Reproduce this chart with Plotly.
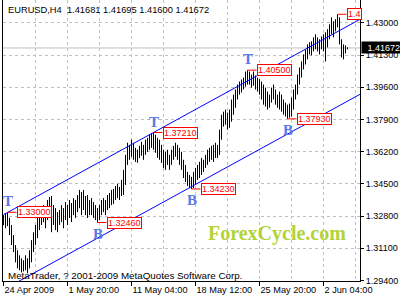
import plotly.graph_objects as go

# ---------------- data (EURUSD H4 bars) ----------------
opens = [
1.3270, 1.3250, 1.3280, 1.3240, 1.3190, 1.3140, 1.3100, 1.3050, 1.3020, 1.3040,
1.3000, 1.3030, 1.3010, 1.3050, 1.3090, 1.3140, 1.3180, 1.3220, 1.3270, 1.3300,
1.3250, 1.3300, 1.3270, 1.3350, 1.3300, 1.3240, 1.3300, 1.3220, 1.3280, 1.3300,
1.3260, 1.3310, 1.3330, 1.3280, 1.3340, 1.3290, 1.3360, 1.3310, 1.3380, 1.3400,
1.3320, 1.3330, 1.3300, 1.3350, 1.3300, 1.3330, 1.3290, 1.3320, 1.3260, 1.3330,
1.3350, 1.3310, 1.3350, 1.3380, 1.3390, 1.3410, 1.3380, 1.3420, 1.3390, 1.3420,
1.3460, 1.3510, 1.3590, 1.3600, 1.3650, 1.3610, 1.3590, 1.3630, 1.3600, 1.3640,
1.3610, 1.3640, 1.3680, 1.3630, 1.3700, 1.3650, 1.3700, 1.3620, 1.3670, 1.3590,
1.3620, 1.3540, 1.3610, 1.3560, 1.3590, 1.3640, 1.3620, 1.3650, 1.3600, 1.3580,
1.3530, 1.3490, 1.3500, 1.3450, 1.3480, 1.3440, 1.3500, 1.3490, 1.3540, 1.3520,
1.3570, 1.3550, 1.3590, 1.3620, 1.3580, 1.3640, 1.3590, 1.3650, 1.3620, 1.3720,
1.3800, 1.3770, 1.3800, 1.3750, 1.3830, 1.3880, 1.3900, 1.3930, 1.3950, 1.3980,
1.3980, 1.4000, 1.4030, 1.3990, 1.4010, 1.3970, 1.4010, 1.3960, 1.4000, 1.3930,
1.3910, 1.3880, 1.3920, 1.3860, 1.3910, 1.3940, 1.3910, 1.3880, 1.3910, 1.3850,
1.3870, 1.3830, 1.3860, 1.3810, 1.3860, 1.3890, 1.3940, 1.3960, 1.4010, 1.4050,
1.4090, 1.4120, 1.4150, 1.4170, 1.4190, 1.4170, 1.4210, 1.4170, 1.4200, 1.4180,
1.4220, 1.4160, 1.4240, 1.4250, 1.4280, 1.4250, 1.4300, 1.4290, 1.4320, 1.4200,
1.4130, 1.4170, 1.41681]

highs = [
1.3285, 1.3296, 1.3300, 1.3270, 1.3233, 1.3180, 1.3127, 1.3100, 1.3073, 1.3057,
1.3047, 1.3073, 1.3057, 1.3100, 1.3153, 1.3195, 1.3233, 1.3285, 1.3312, 1.3322,
1.3338, 1.3312, 1.3365, 1.3381, 1.3386, 1.3338, 1.3322, 1.3301, 1.3312, 1.3338,
1.3322, 1.3354, 1.3338, 1.3365, 1.3349, 1.3375, 1.3365, 1.3391, 1.3418, 1.3407,
1.3418, 1.3386, 1.3391, 1.3365, 1.3375, 1.3354, 1.3338, 1.3322, 1.3338, 1.3365,
1.3375, 1.3365, 1.3391, 1.3402, 1.3418, 1.3423, 1.3439, 1.3450, 1.3434, 1.3471,
1.3524, 1.3603, 1.3667, 1.3656, 1.3683, 1.3667, 1.3640, 1.3630, 1.3651, 1.3672,
1.3656, 1.3683, 1.3693, 1.3709, 1.3714, 1.3721, 1.3709, 1.3693, 1.3683, 1.3656,
1.3630, 1.3619, 1.3630, 1.3603, 1.3630, 1.3651, 1.3667, 1.3656, 1.3640, 1.3619,
1.3577, 1.3550, 1.3513, 1.3497, 1.3487, 1.3513, 1.3534, 1.3550, 1.3566, 1.3587,
1.3577, 1.3603, 1.3630, 1.3640, 1.3651, 1.3656, 1.3667, 1.3656, 1.3736, 1.3815,
1.3831, 1.3842, 1.3826, 1.3842, 1.3895, 1.3921, 1.3948, 1.3974, 1.3990, 1.4001,
1.4011, 1.4043, 1.4050, 1.4043, 1.4027, 1.4043, 1.4022, 1.4011, 1.4001, 1.3990,
1.3974, 1.3958, 1.3937, 1.3921, 1.3958, 1.3974, 1.3948, 1.3921, 1.3937, 1.3921,
1.3895, 1.3879, 1.3868, 1.3874, 1.3905, 1.3948, 1.3974, 1.4027, 1.4064, 1.4096,
1.4133, 1.4160, 1.4186, 1.4197, 1.4202, 1.4223, 1.4239, 1.4223, 1.4213, 1.4228,
1.4239, 1.4250, 1.4266, 1.4292, 1.4329, 1.4308, 1.4319, 1.4345, 1.4329, 1.4213,
1.4186, 1.4181, 1.41695]

lows = [
1.3232, 1.3216, 1.3227, 1.3180, 1.3127, 1.3090, 1.3036, 1.3004, 1.2994, 1.2983,
1.2988, 1.2994, 1.2978, 1.3004, 1.3036, 1.3090, 1.3127, 1.3164, 1.3206, 1.3233,
1.3248, 1.3216, 1.3259, 1.3285, 1.3195, 1.3233, 1.3206, 1.3195, 1.3233, 1.3248,
1.3216, 1.3259, 1.3233, 1.3270, 1.3248, 1.3285, 1.3270, 1.3301, 1.3322, 1.3285,
1.3312, 1.3285, 1.3270, 1.3285, 1.3285, 1.3270, 1.3259, 1.3246, 1.3259, 1.3285,
1.3301, 1.3285, 1.3312, 1.3322, 1.3338, 1.3344, 1.3365, 1.3375, 1.3365, 1.3386,
1.3391, 1.3444, 1.3550, 1.3577, 1.3593, 1.3577, 1.3566, 1.3561, 1.3587, 1.3598,
1.3577, 1.3603, 1.3619, 1.3630, 1.3640, 1.3630, 1.3614, 1.3587, 1.3577, 1.3561,
1.3534, 1.3524, 1.3550, 1.3524, 1.3550, 1.3577, 1.3593, 1.3577, 1.3550, 1.3524,
1.3481, 1.3460, 1.3439, 1.3428, 1.3423, 1.3428, 1.3450, 1.3471, 1.3481, 1.3497,
1.3513, 1.3534, 1.3550, 1.3566, 1.3577, 1.3566, 1.3587, 1.3587, 1.3603, 1.3683,
1.3752, 1.3762, 1.3736, 1.3746, 1.3778, 1.3815, 1.3852, 1.3895, 1.3921, 1.3932,
1.3948, 1.3963, 1.3974, 1.3974, 1.3958, 1.3969, 1.3948, 1.3937, 1.3921, 1.3895,
1.3868, 1.3858, 1.3842, 1.3852, 1.3879, 1.3895, 1.3868, 1.3852, 1.3842, 1.3831,
1.3815, 1.3805, 1.3793, 1.3799, 1.3805, 1.3842, 1.3895, 1.3921, 1.3974, 1.4011,
1.4054, 1.4080, 1.4107, 1.4133, 1.4128, 1.4149, 1.4160, 1.4149, 1.4133, 1.4160,
1.4149, 1.4096, 1.4170, 1.4213, 1.4239, 1.4223, 1.4255, 1.4276, 1.4186, 1.4117,
1.4107, 1.4138, 1.41600]

closes = [
1.3250, 1.3280, 1.3240, 1.3190, 1.3140, 1.3100, 1.3050, 1.3020, 1.3040, 1.3000,
1.3030, 1.3010, 1.3050, 1.3090, 1.3140, 1.3180, 1.3220, 1.3270, 1.3300, 1.3250,
1.3300, 1.3270, 1.3350, 1.3300, 1.3240, 1.3300, 1.3220, 1.3280, 1.3300, 1.3260,
1.3310, 1.3330, 1.3280, 1.3340, 1.3290, 1.3360, 1.3310, 1.3380, 1.3400, 1.3320,
1.3330, 1.3300, 1.3350, 1.3300, 1.3330, 1.3290, 1.3320, 1.3260, 1.3330, 1.3350,
1.3310, 1.3350, 1.3380, 1.3390, 1.3410, 1.3380, 1.3420, 1.3390, 1.3420, 1.3460,
1.3510, 1.3590, 1.3600, 1.3650, 1.3610, 1.3590, 1.3630, 1.3600, 1.3640, 1.3610,
1.3640, 1.3680, 1.3630, 1.3700, 1.3650, 1.3700, 1.3620, 1.3670, 1.3590, 1.3620,
1.3540, 1.3610, 1.3560, 1.3590, 1.3640, 1.3620, 1.3650, 1.3600, 1.3580, 1.3530,
1.3490, 1.3500, 1.3450, 1.3480, 1.3440, 1.3500, 1.3490, 1.3540, 1.3520, 1.3570,
1.3550, 1.3590, 1.3620, 1.3580, 1.3640, 1.3590, 1.3650, 1.3620, 1.3720, 1.3800,
1.3770, 1.3800, 1.3750, 1.3830, 1.3880, 1.3900, 1.3930, 1.3950, 1.3980, 1.3980,
1.4000, 1.4030, 1.3990, 1.4010, 1.3970, 1.4010, 1.3960, 1.4000, 1.3930, 1.3910,
1.3880, 1.3920, 1.3860, 1.3910, 1.3940, 1.3910, 1.3880, 1.3910, 1.3850, 1.3870,
1.3830, 1.3860, 1.3810, 1.3860, 1.3890, 1.3940, 1.3960, 1.4010, 1.4050, 1.4090,
1.4120, 1.4150, 1.4170, 1.4190, 1.4170, 1.4210, 1.4170, 1.4200, 1.4180, 1.4220,
1.4160, 1.4240, 1.4250, 1.4280, 1.4250, 1.4300, 1.4290, 1.4320, 1.4200, 1.4130,
1.4170, 1.41681, 1.41672]

bar_index = list(range(len(closes)))

# time axis labels (every 32 H4 bars)
time_tick_index = [0, 32, 64, 96, 128, 160]
time_tick_text = ["24 Apr 2009", "1 May 20:00", "11 May 04:00", "18 May 12:00", "25 May 20:00", "2 Jun 04:00"]

# price axis labels
price_ticks = [1.294, 1.311, 1.328, 1.345, 1.362, 1.379, 1.396, 1.413, 1.430]

# channel lines (bar index -> price)
channel_index = [0, 180]
channel_upper = [1.32873, 1.43285]
channel_lower = [1.28916, 1.39327]

# pivot price labels
pivot_index = [2, 47, 75, 94, 122, 142, 167]
pivot_price = [1.3300, 1.3246, 1.3721, 1.3423, 1.4050, 1.3793, 1.4345]
pivot_text = ["1.33000", "1.32460", "1.37210", "1.34230", "1.40500", "1.37930", "1.4"]
pivot_letter = ["T", "B", "T", "B", "T", "B", ""]

symbol_text = "EURUSD,H4  1.41681 1.41695 1.41600 1.41672"
last_price = 1.41672

# ---------------- figure ----------------
FONT = "Liberation Sans"
fig = go.Figure()

fig.add_trace(go.Ohlc(
    x=bar_index, open=opens, high=highs, low=lows, close=closes,
    increasing=dict(line=dict(color="black", width=1)),
    decreasing=dict(line=dict(color="black", width=1)),
    tickwidth=0.2, hoverinfo="skip", showlegend=False))

for ys in (channel_upper, channel_lower):
    fig.add_trace(go.Scatter(x=channel_index, y=ys, mode="lines",
                             line=dict(color="#0000ff", width=1),
                             hoverinfo="skip", showlegend=False))

shapes = [dict(type="line", xref="paper", x0=0, x1=1, yref="y",
               y0=last_price, y1=last_price, layer="between",
               line=dict(color="#c0c0c0", width=1))]
annotations = []
offset = 4.5
for i, p, t, letter in zip(pivot_index, pivot_price, pivot_text, pivot_letter):
    shapes.append(dict(type="line", xref="x", yref="y", x0=i, x1=i + offset,
                       y0=p, y1=p, line=dict(color="#ff0000", width=1)))
    annotations.append(dict(x=i + offset, y=p, xref="x", yref="y", text=t,
                            showarrow=False, xanchor="left", yanchor="middle",
                            font=dict(family=FONT, size=9, color="#ff0000"),
                            bgcolor="white", bordercolor="#ff0000",
                            borderwidth=1, borderpad=0))
    if letter:
        is_top = letter == "T"
        annotations.append(dict(x=i, y=p, xref="x", yref="y", text=letter,
                                showarrow=False, xanchor="center", yanchor="middle",
                                yshift=11 if is_top else -11,
                                font=dict(family="Liberation Serif", size=15,
                                          color="#5a78e6", weight="bold")))

annotations.append(dict(xref="paper", yref="paper", x=0, y=1, xshift=3, yshift=-10,
                        text=symbol_text, showarrow=False, xanchor="left",
                        yanchor="middle", font=dict(family=FONT, size=9.3, color="black")))
annotations.append(dict(xref="paper", yref="paper", x=0, y=0, xshift=3, yshift=6,
                        text="MetaTrader, ? 2001-2009 MetaQuotes Software Corp.",
                        showarrow=False, xanchor="left", yanchor="middle",
                        font=dict(family=FONT, size=9.8, color="black")))
annotations.append(dict(xref="paper", yref="paper", x=0.7675, y=0.1708,
                        text="ForexCycle.com", showarrow=False,
                        xanchor="center", yanchor="middle",
                        font=dict(family="Liberation Serif", size=20,
                                  color="#b2d235", weight="bold")))
annotations.append(dict(xref="paper", yref="y", x=1, y=last_price, xshift=1,
                        text=f"{last_price:.5f}", showarrow=False,
                        xanchor="left", yanchor="middle", width=38, height=11,
                        align="right", bgcolor="black", borderpad=0,
                        font=dict(family=FONT, size=9, color="white")))

fig.update_layout(
    width=400, height=300,
    margin=dict(l=3, r=40, t=0, b=19),
    paper_bgcolor="white", plot_bgcolor="white",
    showlegend=False,
    shapes=shapes, annotations=annotations,
    xaxis=dict(range=[-0.25, 178.25], fixedrange=True,
               rangeslider=dict(visible=False),
               tickmode="array", tickvals=time_tick_index, ticktext=time_tick_text,
               ticklabelposition="outside right", tickangle=0,
               ticks="outside", ticklen=4, tickcolor="black",
               tickfont=dict(family=FONT, size=9.2, color="black"),
               showline=True, linecolor="black", linewidth=1, mirror=False,
               showgrid=True, gridcolor="#c0c0c0", griddash="3px,3px", gridwidth=1,
               minor=dict(dtick=16, tick0=0, showgrid=True, gridcolor="#c0c0c0",
                          griddash="3px,3px", ticks=""),
               zeroline=False),
    yaxis=dict(range=[1.29374, 1.44203], fixedrange=True, side="right",
               tickmode="array", tickvals=price_ticks, tickformat=".5f",
               ticks="outside", ticklen=3, tickcolor="black",
               tickfont=dict(family=FONT, size=9, color="black"),
               showline=True, linecolor="black", linewidth=1, mirror=True,
               showgrid=True, gridcolor="#c0c0c0", griddash="3px,3px", gridwidth=1,
               zeroline=False),
)

fig.write_html("out.html", config={"displayModeBar": False})
